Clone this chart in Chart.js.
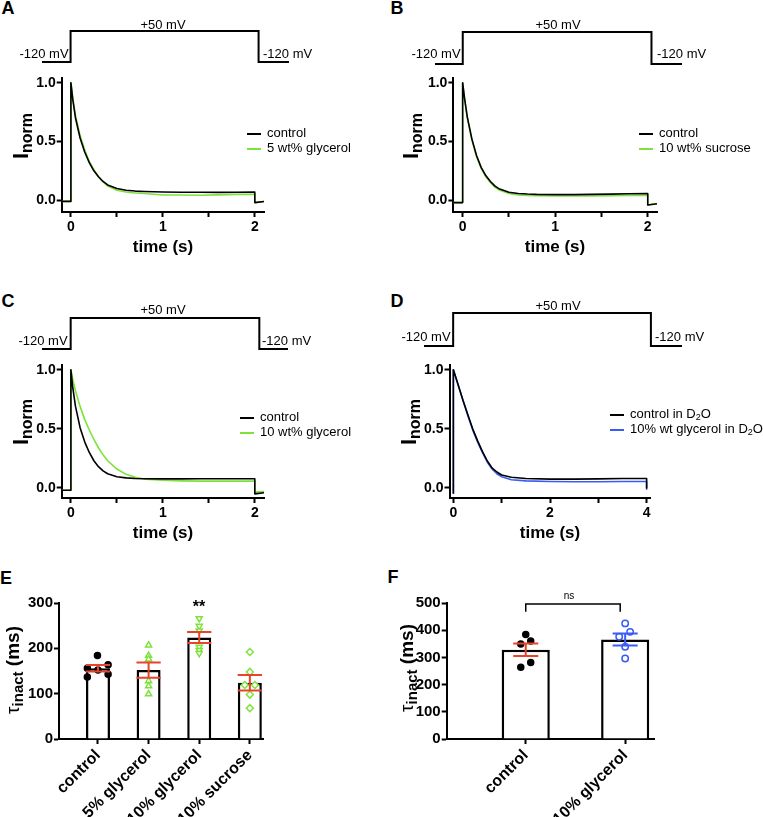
<!DOCTYPE html>
<html><head><meta charset="utf-8">
<script src="https://cdn.jsdelivr.net/npm/chart.js@4/dist/chart.umd.min.js"></script>
<style>
html,body{margin:0;padding:0;background:#fff;}
body{width:763px;height:817px;position:relative;overflow:hidden;font-family:"Liberation Sans",Arial,sans-serif;color:#000;}
canvas{position:absolute;}
.t{position:absolute;white-space:nowrap;line-height:1;}
.c{transform:translate(-50%,-50%);}
.l{transform:translate(0,-50%);}
.letter{font-weight:bold;font-size:18px;}
.volt{font-size:13px;}
.ytitle{font-weight:bold;font-size:22px;transform:translate(-50%,-50%) rotate(-90deg);}
.ytitle sub{font-size:16px;vertical-align:-4px;}
.ytau{font-weight:bold;font-size:19px;transform:translate(-50%,-50%) rotate(-90deg);}
.ytau sub{font-size:15px;vertical-align:-4px;}
.xtitle{font-weight:bold;font-size:17px;}
.leg{font-size:13px;}
.sw{display:inline-block;width:14px;height:2px;vertical-align:middle;margin-right:6px;}
.leg sub{font-size:9px;vertical-align:-2px;}
</style></head><body>

<canvas id="pA" width="267" height="51" style="left:32px;top:21px"></canvas>
<canvas id="pB" width="267" height="52" style="left:425px;top:22px"></canvas>
<canvas id="pC" width="266" height="51" style="left:32px;top:308px"></canvas>
<canvas id="pD" width="278" height="53" style="left:414px;top:303px"></canvas>

<canvas id="cA" width="300" height="200" style="left:0px;top:60px"></canvas>
<canvas id="cB" width="300" height="200" style="left:380px;top:60px"></canvas>
<canvas id="cC" width="300" height="200" style="left:0px;top:345px"></canvas>
<canvas id="cD" width="300" height="200" style="left:380px;top:345px"></canvas>
<canvas id="cE" width="380" height="227" style="left:0px;top:590px"></canvas>
<canvas id="cF" width="383" height="227" style="left:380px;top:590px"></canvas>

<div class="t c letter" style="left:8px;top:8px">A</div>
<div class="t c letter" style="left:397px;top:8px">B</div>
<div class="t c letter" style="left:8px;top:301px">C</div>
<div class="t c letter" style="left:397px;top:301px">D</div>
<div class="t c letter" style="left:6px;top:578px">E</div>
<div class="t c letter" style="left:393px;top:577px">F</div>

<div class="t c volt" style="left:44px;top:53px">-120 mV</div>
<div class="t c volt" style="left:163px;top:24px">+50 mV</div>
<div class="t l volt" style="left:263px;top:53px">-120 mV</div>
<div class="t c volt" style="left:436px;top:53px">-120 mV</div>
<div class="t c volt" style="left:558px;top:24px">+50 mV</div>
<div class="t l volt" style="left:657px;top:53px">-120 mV</div>
<div class="t c volt" style="left:43px;top:340px">-120 mV</div>
<div class="t c volt" style="left:163px;top:309px">+50 mV</div>
<div class="t l volt" style="left:262px;top:340px">-120 mV</div>
<div class="t c volt" style="left:426px;top:336px">-120 mV</div>
<div class="t c volt" style="left:558px;top:305px">+50 mV</div>
<div class="t l volt" style="left:655px;top:336px">-120 mV</div>

<div class="t ytitle" style="left:22px;top:136px">I<sub>norm</sub></div>
<div class="t ytitle" style="left:412px;top:136px">I<sub>norm</sub></div>
<div class="t ytitle" style="left:22px;top:422px">I<sub>norm</sub></div>
<div class="t ytitle" style="left:410px;top:422px">I<sub>norm</sub></div>
<div class="t ytau" style="left:14px;top:670px"><span style="font-weight:normal">τ</span><sub>inact</sub> (ms)</div>
<div class="t ytau" style="left:408px;top:668px"><span style="font-weight:normal">τ</span><sub>inact</sub> (ms)</div>

<div class="t c xtitle" style="left:163px;top:246px">time (s)</div>
<div class="t c xtitle" style="left:555px;top:246px">time (s)</div>
<div class="t c xtitle" style="left:163px;top:532px">time (s)</div>
<div class="t c xtitle" style="left:550px;top:532px">time (s)</div>

<div id="legA" class="t leg" style="left:247px;top:125px"></div>
<div id="legB" class="t leg" style="left:639px;top:125px"></div>
<div id="legC" class="t leg" style="left:240px;top:409px"></div>
<div id="legD" class="t leg" style="left:610px;top:406px"></div>

<div class="t c" style="left:199px;top:607px;font-weight:bold;font-size:16px">**</div>
<div class="t c" style="left:569px;top:596px;font-size:10px">ns</div>

<script>
// ---------------- data ----------------
const protoV = [-120, -120, 50, 50, -120, -120];
const protoT_A = [-0.31, 0, 0, 2.04, 2.04, 2.37];
const protoT_B = [-0.30, 0, 0, 2.04, 2.04, 2.37];
const protoT_C = [-0.31, 0, 0, 2.04, 2.04, 2.35];
const protoT_D = [-0.60, 0, 0, 4.07, 4.07, 4.71];

const timeTicks2 = [0, 0.5, 1, 1.5, 2];
const timeTicks4 = [0, 1, 2, 3, 4];
const inormTicks = [0, 0.5, 1.0];

// time points for traces of panels A-C (s)
const tABC = [-0.1, 0, 0, 0.02, 0.05, 0.1, 0.15, 0.2, 0.25, 0.3, 0.35, 0.4, 0.5, 0.6, 0.7, 0.8, 1.0, 1.2, 1.4, 1.6, 1.8, 2.0, 2.0, 2.1];
const iA_control  = [-0.01, -0.01, 1.0, 0.86, 0.70, 0.53, 0.41, 0.32, 0.25, 0.20, 0.16, 0.13, 0.10, 0.085, 0.078, 0.075, 0.07, 0.068, 0.068, 0.067, 0.068, 0.07, -0.02, -0.01];
const iA_glycerol5 = [-0.01, -0.01, 1.0, 0.87, 0.72, 0.55, 0.43, 0.33, 0.26, 0.20, 0.155, 0.12, 0.085, 0.07, 0.062, 0.058, 0.045, 0.045, 0.042, 0.046, 0.05, 0.05, -0.02, -0.01];
const iB_control  = [-0.02, -0.02, 1.0, 0.87, 0.71, 0.52, 0.38, 0.28, 0.21, 0.16, 0.12, 0.095, 0.068, 0.058, 0.053, 0.05, 0.048, 0.048, 0.05, 0.052, 0.055, 0.058, -0.04, -0.03];
const iB_sucrose10 = [-0.02, -0.02, 1.0, 0.86, 0.70, 0.51, 0.37, 0.27, 0.20, 0.15, 0.11, 0.085, 0.058, 0.045, 0.04, 0.038, 0.036, 0.036, 0.036, 0.038, 0.04, 0.042, -0.04, -0.03];
const iC_control  = [-0.02, -0.02, 1.0, 0.85, 0.69, 0.51, 0.39, 0.30, 0.23, 0.18, 0.145, 0.12, 0.095, 0.085, 0.08, 0.078, 0.077, 0.077, 0.078, 0.078, 0.078, 0.078, -0.05, -0.04];
const iC_glycerol10 = [-0.02, -0.02, 1.0, 0.92, 0.82, 0.69, 0.58, 0.49, 0.41, 0.34, 0.28, 0.23, 0.16, 0.115, 0.09, 0.075, 0.065, 0.06, 0.058, 0.058, 0.058, 0.058, -0.035, -0.03];

const tD = [0, 0, 0.1, 0.2, 0.3, 0.4, 0.5, 0.6, 0.7, 0.8, 0.9, 1.0, 1.2, 1.5, 2.0, 2.5, 3.0, 3.5, 4.0, 4.0];
const iD_control = [-0.05, 1.0, 0.87, 0.74, 0.62, 0.50, 0.40, 0.31, 0.23, 0.17, 0.135, 0.11, 0.09, 0.08, 0.075, 0.075, 0.077, 0.08, 0.08, 0.0];
const iD_glycerol = [-0.05, 1.0, 0.87, 0.74, 0.61, 0.49, 0.39, 0.30, 0.22, 0.16, 0.12, 0.095, 0.07, 0.06, 0.055, 0.052, 0.052, 0.055, 0.055, -0.01];

// panel E (tau_inact, ms)
const eCats = ['control', '5% glycerol', '10% glycerol', '10% sucrose'];
const eMeans = [156, 152, 224, 124];
const eSems = [7, 17, 12, 17];
const eTicks = [0, 100, 200, 300];
const eCtrlX = [0.79, 0.99, 1.2, 0.79, 1.2, 1.0];
const eCtrlY = [156, 184, 164, 137, 143, 152];
const eGly5X = [2, 2, 2, 2, 2, 2];
const eGly5Y = [207, 184, 176, 128, 117, 99];
const eGly10X = [3, 3, 3, 3, 3, 3];
const eGly10Y = [266, 249, 239, 203, 196, 189];
const eSucX = [4, 4, 3.9, 4.1, 4, 4];
const eSucY = [192, 148, 119, 119, 98, 68];

// panel F
const fCats = ['control', '10% glycerol'];
const fMeans = [328, 366];
const fSems = [23, 22];
const fTicks = [0, 100, 200, 300, 400, 500];
const fCtrlX = [1, 0.95, 1.05, 1.05, 0.95];
const fCtrlY = [384, 349, 360, 281, 264];
const fGlyX = [2, 1.94, 2.05, 2, 2];
const fGlyY = [425, 376, 394, 339, 296];
const fBracket = {x1: 1, x2: 1.95, top: 496, foot: 468};

// ---------------- styles ----------------
const BLACK = '#000000', GREEN = '#7ee23c', BLUE = '#3a5cf5', RED = '#e8442c';
Chart.defaults.font.family = '"Liberation Sans", Arial, sans-serif';
Chart.defaults.color = '#000';

const pts = (xs, ys) => xs.map((x, i) => ({x, y: ys[i]}));

function protocol(id, T) {
  new Chart(document.getElementById(id), {
    type: 'line',
    data: {datasets: [{data: pts(T, protoV), borderColor: BLACK, borderWidth: 2, pointRadius: 0,
      borderJoinStyle: 'miter', clip: false, tension: 0}]},
    options: {responsive: false, animation: false, events: [],
      layout: {padding: 10},
      plugins: {legend: {display: false}, tooltip: {enabled: false}},
      scales: {x: {type: 'linear', display: false, min: T[0], max: T[T.length - 1]},
               y: {type: 'linear', display: false, min: -120, max: 50}}}
  });
}

function axisCommon() {
  return {
    grid: {display: true, drawOnChartArea: false, drawTicks: true, tickLength: 5, tickWidth: 2, tickColor: BLACK, offset: false},
    border: {display: true, color: BLACK, width: 2}
  };
}

function traceChart(id, sets, xr, xTicks, labelEvery, yr, g) {
  new Chart(document.getElementById(id), {
    type: 'line',
    data: {datasets: sets.map(s => ({label: s.label, data: pts(s.t, s.v), borderColor: s.color,
      borderWidth: 1.6, pointRadius: 0, tension: 0, borderJoinStyle: 'round'}))},
    options: {responsive: false, animation: false, events: [],
      layout: {padding: {top: g.padT, right: g.padR, left: 0, bottom: 0}},
      plugins: {legend: {display: false}, tooltip: {enabled: false}},
      scales: {
        x: Object.assign(axisCommon(), {type: 'linear', min: xr[0], max: xr[1],
          afterBuildTicks: s => { s.ticks = xTicks.map(v => ({value: v})); },
          afterFit: s => { s.height = g.xH; },
          ticks: {autoSkip: false, maxRotation: 0, padding: 2, font: {size: 14, weight: 'bold'}, color: BLACK,
            callback: v => (Number.isInteger(v) && v % labelEvery === 0) ? String(v) : ''}}),
        y: Object.assign(axisCommon(), {type: 'linear', min: yr[0], max: yr[1],
          afterBuildTicks: s => { s.ticks = inormTicks.map(v => ({value: v})); },
          afterFit: s => { s.width = g.yW; },
          ticks: {padding: 1, font: {size: 14, weight: 'bold'}, color: BLACK, callback: v => Number(v).toFixed(1)}})
      }}
  });
  const leg = document.getElementById('leg' + id.slice(1));
  leg.innerHTML = sets.map(s => '<div style="height:15px;line-height:15px"><span class="sw" style="background:' + s.color + '"></span>' + s.html + '</div>').join('');
}

traceChart('cA', [
  {label: 'control', html: 'control', t: tABC, v: iA_control, color: BLACK},
  {label: '5 wt% glycerol', html: '5 wt% glycerol', t: tABC, v: iA_glycerol5, color: GREEN}],
  [-0.1, 2.1], timeTicks2, 1, [-0.1, 1.04], {padT: 18, padR: 36, xH: 48, yW: 61.7});
traceChart('cB', [
  {label: 'control', html: 'control', t: tABC, v: iB_control, color: BLACK},
  {label: '10 wt% sucrose', html: '10 wt% sucrose', t: tABC, v: iB_sucrose10, color: GREEN}],
  [-0.1, 2.1], timeTicks2, 1, [-0.1, 1.04], {padT: 18, padR: 23, xH: 48, yW: 73.4});
traceChart('cC', [
  {label: 'control', html: 'control', t: tABC, v: iC_control, color: BLACK},
  {label: '10 wt% glycerol', html: '10 wt% glycerol', t: tABC, v: iC_glycerol10, color: GREEN}],
  [-0.1, 2.1], timeTicks2, 1, [-0.085, 1.04], {padT: 20, padR: 36, xH: 47, yW: 61.7});
traceChart('cD', [
  {label: 'control in D2O', html: 'control in D<sub>2</sub>O', t: tD, v: iD_control, color: BLACK},
  {label: '10% wt glycerol in D2O', html: '10% wt glycerol in D<sub>2</sub>O', t: tD, v: iD_glycerol, color: BLUE}],
  [-0.08, 4.08], timeTicks4, 2, [-0.085, 1.04], {padT: 20, padR: 29.5, xH: 47, yW: 69.5});

protocol('pA', protoT_A);
protocol('pB', protoT_B);
protocol('pC', protoT_C);
protocol('pD', protoT_D);

function errPlugin(xs, means, sems, colors, capHalf, bracket) {
  return {id: 'err', afterDatasetsDraw(chart) {
    const ctx = chart.ctx, X = chart.scales.x, Y = chart.scales.y;
    ctx.save();
    ctx.lineWidth = 2;
    means.forEach((m, i) => {
      const x = X.getPixelForValue(xs[i]);
      const hw = X.getPixelForValue(xs[i] + capHalf) - x;
      const y1 = Y.getPixelForValue(m - sems[i]), y2 = Y.getPixelForValue(m + sems[i]);
      ctx.strokeStyle = colors[i];
      ctx.beginPath();
      ctx.moveTo(x, y1); ctx.lineTo(x, y2);
      ctx.moveTo(x - hw, y1); ctx.lineTo(x + hw, y1);
      ctx.moveTo(x - hw, y2); ctx.lineTo(x + hw, y2);
      ctx.stroke();
    });
    if (bracket) {
      ctx.strokeStyle = BLACK; ctx.lineWidth = 1.5;
      const a = X.getPixelForValue(bracket.x1), b = X.getPixelForValue(bracket.x2);
      const t = Y.getPixelForValue(bracket.top), f = Y.getPixelForValue(bracket.foot);
      ctx.beginPath(); ctx.moveTo(a, f); ctx.lineTo(a, t); ctx.lineTo(b, t); ctx.lineTo(b, f); ctx.stroke();
    }
    ctx.restore();
  }};
}

function barChart(id, cats, means, sems, ticksY, yMax, groups, xr, errColors, capHalf, bracket, g) {
  const datasets = [{type: 'bar', data: means.map((m, i) => ({x: i + 1, y: m})), backgroundColor: '#fff',
    borderColor: BLACK, borderWidth: 2.5, barPercentage: g.barPct, categoryPercentage: 1, order: 10}];
  groups.forEach(gr => datasets.push({type: 'scatter', data: pts(gr.x, gr.y), pointStyle: gr.style,
    rotation: gr.rot || 0, pointRadius: gr.r, borderColor: gr.color, backgroundColor: gr.fill,
    borderWidth: 1.5, order: 1, showLine: false}));
  new Chart(document.getElementById(id), {
    type: 'bar',
    data: {datasets},
    plugins: [errPlugin(means.map((m, i) => i + 1), means, sems, errColors, capHalf, bracket)],
    options: {responsive: false, animation: false, events: [],
      layout: {padding: {top: g.padT, right: g.padR, left: 0, bottom: 0}},
      plugins: {legend: {display: false}, tooltip: {enabled: false}},
      scales: {
        x: Object.assign(axisCommon(), {type: 'linear', offset: false, min: xr[0], max: xr[1],
          afterBuildTicks: s => { s.ticks = cats.map((c, i) => ({value: i + 1})); },
          afterFit: s => { s.height = g.xH; },
          ticks: {autoSkip: false, minRotation: 45, maxRotation: 45, padding: 2, font: {size: 16, weight: 'bold'}, color: BLACK,
            callback: v => cats[Math.round(v) - 1]}}),
        y: Object.assign(axisCommon(), {type: 'linear', min: 0, max: yMax,
          afterBuildTicks: s => { s.ticks = ticksY.map(v => ({value: v})); },
          afterFit: s => { s.width = g.yW; },
          ticks: {padding: 1, font: {size: 15, weight: 'bold'}, color: BLACK}})
      }}
  });
}

barChart('cE', eCats, eMeans, eSems, eTicks, 300, [
  {x: eCtrlX, y: eCtrlY, style: 'circle', r: 3, color: BLACK, fill: BLACK},
  {x: eGly5X, y: eGly5Y, style: 'triangle', r: 3.5, color: GREEN, fill: '#fff'},
  {x: eGly10X, y: eGly10Y, style: 'triangle', rot: 180, r: 3.5, color: GREEN, fill: '#fff'},
  {x: eSucX, y: eSucY, style: 'rectRot', r: 3.5, color: GREEN, fill: '#fff'}],
  [0.23, 4.26], [RED, RED, RED, RED], 0.24, null,
  {padT: 13, padR: 117, xH: 78, yW: 59, barPct: 0.474});

barChart('cF', fCats, fMeans, fSems, fTicks, 500, [
  {x: fCtrlX, y: fCtrlY, style: 'circle', r: 3, color: BLACK, fill: BLACK},
  {x: fGlyX, y: fGlyY, style: 'circle', r: 3.2, color: BLUE, fill: '#fff'}],
  [0.205, 2.29], [RED, BLUE], 0.126, fBracket,
  {padT: 13, padR: 109, xH: 78, yW: 66.7, barPct: 0.484});
</script>
</body></html>
